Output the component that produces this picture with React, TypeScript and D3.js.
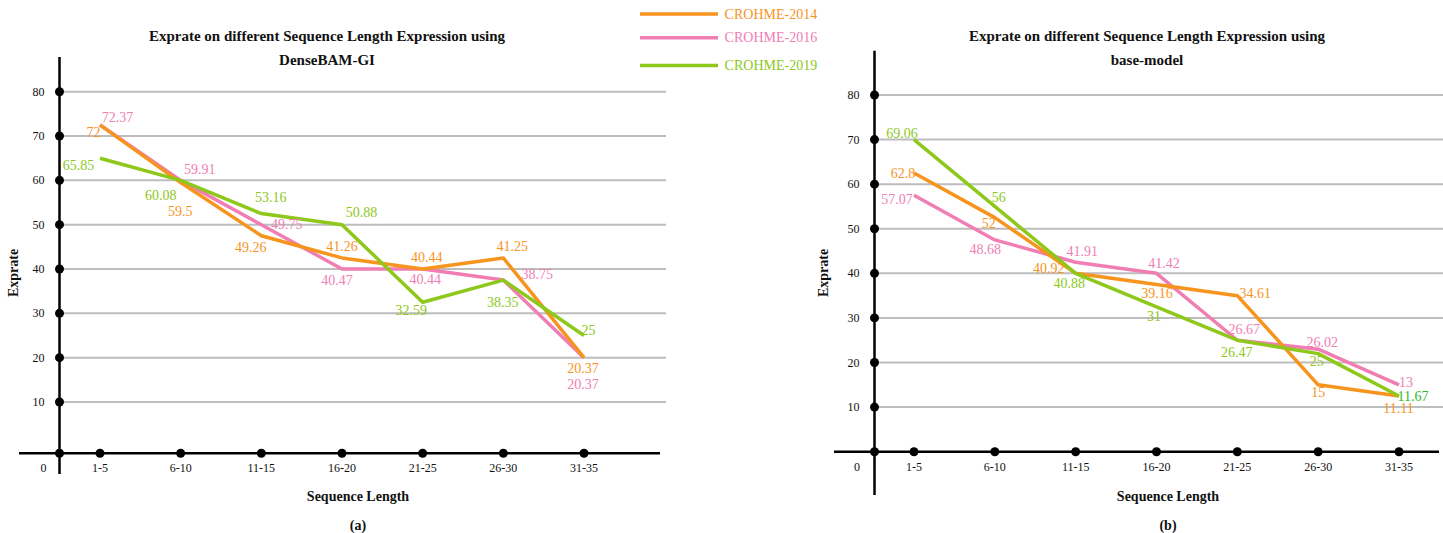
import React from "react";
import * as d3 from "d3";

// ---------- DATA ----------
const CATEGORIES = ["1-5", "6-10", "11-15", "16-20", "21-25", "26-30", "31-35"];
const Y_TICKS = [10, 20, 30, 40, 50, 60, 70, 80];
const SERIES_NAMES = ["CROHME-2014", "CROHME-2016", "CROHME-2019"];

// (a) DenseBAM-GI : plotted values (as drawn) and printed labels
const A_2014 = [72.5, 59.5, 47.5, 42.5, 40, 42.5, 20];
const A_2016 = [72.5, 60, 50, 40, 40, 37.5, 20];
const A_2019 = [65, 60, 52.5, 50, 32.5, 37.5, 25];
const A_2014_LABELS = ["72", "59.5", "49.26", "41.26", "40.44", "41.25", "20.37"];
const A_2016_LABELS = ["72.37", "59.91", "49.75", "40.47", "40.44", "38.75", "20.37"];
const A_2019_LABELS = ["65.85", "60.08", "53.16", "50.88", "32.59", "38.35", "25"];

// (b) base-model
const B_2014 = [62.5, 52.5, 40, 37.5, 35, 15, 12.5];
const B_2016 = [57.5, 47.5, 42.5, 40, 25, 23, 15];
const B_2019 = [70, 55, 40, 32.5, 25, 22, 12.5];
const B_2014_LABELS = ["62.8", "52", "40.92", "39.16", "34.61", "15", "11.11"];
const B_2016_LABELS = ["57.07", "48.68", "41.91", "41.42", "26.67", "26.02", "13"];
const B_2019_LABELS = ["69.06", "56", "40.88", "31", "26.47", "25", "11.67"];

// ---------- STYLE / LAYOUT ----------
const ORANGE = "#F7941E";
const PINK = "#F07EB3";
const GREEN = "#8DC81A";
const COLORS = [ORANGE, PINK, GREEN];
const FONT = "'Liberation Serif', 'Times New Roman', serif";

// label offsets (dx, dy) relative to each point, per series
const A_OFFSETS = [
  [[-6.5, 8], [-0.5, 29], [-10.5, 12], [0, -11], [4, -12], [9, -11], [-1, 11]],
  [[17.5, -7], [19, -11], [25.5, 0], [-5, 11], [2.5, 10], [34, -6], [-1, 27]],
  [[-21.5, 7], [-20, 15], [9.5, -16.5], [19.5, -12], [-11.5, 8], [-0.5, 22], [4.5, -5.5]],
];
const B_OFFSETS = [
  [[-11, 0], [-6, 5.5], [-27, -4.5], [0.5, 9.5], [18, -2.5], [0, 8], [-0.5, 13]],
  [[-17, 4], [-9.5, 10], [6.5, -10.5], [7.5, -9.5], [7, -11], [4, -7], [7, -2]],
  [[-12, -6], [4, -8.5], [-6.5, 10], [-2.5, 10], [-0.5, 12], [-1.5, 7.5], [14, 0.5]],
];
const B_LABEL_COLORS = [
  [ORANGE, ORANGE, ORANGE, ORANGE, ORANGE, ORANGE, ORANGE],
  [PINK, PINK, PINK, PINK, PINK, PINK, PINK],
  [GREEN, GREEN, GREEN, GREEN, GREEN, GREEN, "#2DB82D"],
];

type ChartProps = {
  series: number[][];
  labels: string[][];
  offsets: number[][][];
  labelColors?: string[][];
  axisX: number;
  xRange: [number, number];
  yDomain: number[];
  yRange: number[];
  gridRight: number;
  xAxisExtent: [number, number];
  yAxisExtent: [number, number];
  title: string[];
  titleX: number;
  yTitleX: number;
  xTitleX: number;
  caption: string;
  zeroX: number;
};

function Chart(p: ChartProps) {
  const x = d3.scalePoint<string>().domain(CATEGORIES).range(p.xRange);
  const y = d3.scaleLinear().domain(p.yDomain).range(p.yRange);
  const y0 = y(0);
  const line = d3
    .line<number>()
    .x((_, i) => x(CATEGORIES[i]) as number)
    .y((d) => y(d));
  const drawOrder = [1, 0, 2];
  return (
    <g fontFamily={FONT}>
      {/* title */}
      {p.title.map((t, i) => (
        <text key={i} x={p.titleX} y={36 + i * 24} textAnchor="middle" dominantBaseline="central" fontSize={15} fontWeight="bold" fill="#111">
          {t}
        </text>
      ))}
      {/* grid */}
      {Y_TICKS.map((t) => (
        <line key={t} x1={p.axisX} x2={p.gridRight} y1={y(t)} y2={y(t)} stroke="#BDBDBD" strokeWidth={2} />
      ))}
      {/* axes */}
      <line x1={p.axisX} x2={p.axisX} y1={p.yAxisExtent[0]} y2={p.yAxisExtent[1]} stroke="#000" strokeWidth={2.5} />
      <line x1={p.xAxisExtent[0]} x2={p.xAxisExtent[1]} y1={y0} y2={y0} stroke="#000" strokeWidth={2.5} />
      {Y_TICKS.map((t) => (
        <g key={t}>
          <circle cx={p.axisX} cy={y(t)} r={4.5} fill="#000" />
          <text x={p.axisX - 15} y={y(t)} textAnchor="end" dominantBaseline="central" fontSize={12} fill="#111">
            {t}
          </text>
        </g>
      ))}
      <circle cx={p.axisX} cy={y0} r={4.5} fill="#000" />
      <text x={p.zeroX} y={y0 + 15} textAnchor="middle" dominantBaseline="central" fontSize={12} fill="#111">0</text>
      {CATEGORIES.map((c) => (
        <g key={c}>
          <circle cx={x(c)} cy={y0} r={4.5} fill="#000" />
          <text x={x(c)} y={y0 + 15} textAnchor="middle" dominantBaseline="central" fontSize={12} fill="#111">
            {c}
          </text>
        </g>
      ))}
      {/* axis titles */}
      <text
        transform={`translate(${p.yTitleX},273) rotate(-90)`}
        textAnchor="middle"
        dominantBaseline="central"
        fontSize={14}
        fontWeight="bold"
        fill="#111"
      >
        Exprate
      </text>
      <text x={p.xTitleX} y={496} textAnchor="middle" dominantBaseline="central" fontSize={14} fontWeight="bold" fill="#111">
        Sequence Length
      </text>
      <text x={p.xTitleX} y={525} textAnchor="middle" dominantBaseline="central" fontSize={14} fontWeight="bold" fill="#111">
        {p.caption}
      </text>
      {/* lines */}
      {drawOrder.map((s) => (
        <path key={s} d={line(p.series[s]) || ""} fill="none" stroke={COLORS[s]} strokeWidth={3.5} strokeLinejoin="round" />
      ))}
      {/* labels */}
      {p.series.map((vals, s) =>
        vals.map((v, i) => (
          <text
            key={`${s}-${i}`}
            x={(x(CATEGORIES[i]) as number) + p.offsets[s][i][0]}
            y={y(v) + p.offsets[s][i][1]}
            textAnchor="middle"
            dominantBaseline="central"
            fontSize={14}
            fill={p.labelColors ? p.labelColors[s][i] : COLORS[s]}
          >
            {p.labels[s][i]}
          </text>
        ))
      )}
    </g>
  );
}

export default function App() {
  const legendY = [14, 37.7, 65.5];
  return (
    <svg width={1443} height={533} style={{ position: "absolute", left: 0, top: 0, background: "#fff" }}>
      <rect width={1443} height={533} fill="#fff" />
      <Chart
        series={[A_2014, A_2016, A_2019]}
        labels={[A_2014_LABELS, A_2016_LABELS, A_2019_LABELS]}
        offsets={A_OFFSETS}
        axisX={59.5}
        xRange={[100, 584]}
        yDomain={[0, 10, 80]}
        yRange={[453.3, 402, 91.7]}
        gridRight={666}
        xAxisExtent={[19, 660]}
        yAxisExtent={[57, 474]}
        title={["Exprate on different Sequence Length Expression using", "DenseBAM-GI"]}
        titleX={327}
        yTitleX={13}
        xTitleX={358}
        caption="(a)"
        zeroX={43.6}
      />
      <Chart
        series={[B_2014, B_2016, B_2019]}
        labels={[B_2014_LABELS, B_2016_LABELS, B_2019_LABELS]}
        offsets={B_OFFSETS}
        labelColors={B_LABEL_COLORS}
        axisX={874.5}
        xRange={[914, 1399]}
        yDomain={[0, 80]}
        yRange={[451.7, 95]}
        gridRight={1443}
        xAxisExtent={[834, 1439]}
        yAxisExtent={[50.7, 495]}
        title={["Exprate on different Sequence Length Expression using", "base-model"]}
        titleX={1147}
        yTitleX={823.7}
        xTitleX={1168}
        caption="(b)"
        zeroX={857}
      />
      {/* legend */}
      {SERIES_NAMES.map((n, i) => (
        <g key={n}>
          <line x1={640} x2={718} y1={legendY[i]} y2={legendY[i]} stroke={COLORS[i]} strokeWidth={3.5} />
          <text x={724.6} y={legendY[i]} dominantBaseline="central" fontSize={14} fontFamily={FONT} fill={COLORS[i]}>
            {n}
          </text>
        </g>
      ))}
    </svg>
  );
}
